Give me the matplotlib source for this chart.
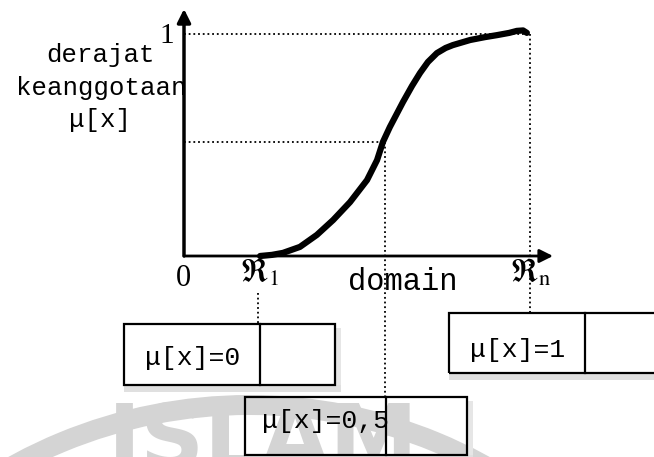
import matplotlib
matplotlib.use("Agg")
import matplotlib.pyplot as plt
from matplotlib.patches import Rectangle, Wedge

plt.rcParams['mathtext.fontset'] = 'stix'

# membership curve (domain scaled so that Rn = 1)
domain_x = [0.220, 0.254, 0.286, 0.335, 0.384, 0.431, 0.480, 0.529, 0.558,
            0.575, 0.595, 0.633, 0.659, 0.682, 0.705, 0.731, 0.756, 0.777,
            0.827, 0.870, 0.905, 0.940, 0.962, 0.980, 0.991]
mu_y = [0.000, 0.005, 0.014, 0.041, 0.095, 0.162, 0.243, 0.342, 0.432,
        0.514, 0.581, 0.694, 0.766, 0.824, 0.874, 0.914, 0.937, 0.950,
        0.973, 0.986, 0.995, 1.005, 1.014, 1.016, 1.005]

R1 = 0.214
Rn = 1.0
x_half = 0.581
mu_half = 0.514
mu_top = 1.0

box_labels = ["\u03bc[x]=0", "\u03bc[x]=0,5", "\u03bc[x]=1"]

# pixel layout of the original picture
X0, Y0 = 184, 256      # origin
SX, SY = 346, 222      # pixels per unit


def dx(px):
    return (px - X0) / SX


def dy(py):
    return (Y0 - py) / SY


fig = plt.figure(figsize=(6.54, 4.57), dpi=100)

# faint watermark behind everything
wm = fig.add_axes([0, 0, 1, 1], zorder=0)
wm.set_xlim(0, 654)
wm.set_ylim(457, 0)
wm.axis('off')
wm.add_patch(Wedge((249, 894), 499, 0, 360, width=20, color='#d4d4d4', lw=0))
wm.text(108, 400, 'ISLAM', fontsize=64, fontweight='bold', color='#d4d4d4',
        va='top', ha='left', family='DejaVu Sans')

ax = fig.add_axes([0, 0, 1, 1], zorder=1)
ax.set_xlim(dx(0), dx(654))
ax.set_ylim(dy(457), dy(0))
ax.axis('off')

# axes with arrows
ax.annotate('', xy=(dx(553), 0), xytext=(0, 0),
            arrowprops=dict(arrowstyle='-|>', lw=2, color='black',
                            mutation_scale=20, shrinkA=0, shrinkB=0))
ax.annotate('', xy=(0, dy(9)), xytext=(0, 0),
            arrowprops=dict(arrowstyle='-|>', lw=2.5, color='black',
                            mutation_scale=20, shrinkA=0, shrinkB=0))

# dotted guide lines
dot = dict(color='black', lw=1.3, ls=(0, (1, 1.6)), clip_on=False)
ax.plot([0, Rn], [mu_top, mu_top], **dot)
ax.plot([Rn, Rn], [mu_top, dy(313)], **dot)
ax.plot([0, x_half], [mu_half, mu_half], **dot)
ax.plot([x_half, x_half], [mu_half, dy(397)], **dot)
ax.plot([R1, R1], [dy(293), dy(324)], **dot)

# the curve
ax.plot(domain_x, mu_y, color='black', lw=4.5, solid_capstyle='round',
        solid_joinstyle='round', clip_on=False)

# labels
mono = 'Liberation Mono'
ax.text(dx(100), dy(55), 'derajat', family=mono, fontsize=18.5,
        ha='center', va='center')
ax.text(dx(101), dy(88), 'keanggotaan', family=mono, fontsize=18.5,
        ha='center', va='center')
ax.text(dx(100), dy(120), '\u03bc[x]', family=mono, fontsize=18.5,
        ha='center', va='center')
ax.text(dx(403), dy(282), 'domain', family=mono, fontsize=22,
        ha='center', va='center')
ax.text(dx(167), dy(36), '1', family='Liberation Serif', fontsize=21,
        ha='center', va='center')
ax.text(dx(183), dy(279), '0', family='Liberation Serif', fontsize=22,
        ha='center', va='center')
ax.text(dx(260), dy(273), r'$\Re_{1}$', fontsize=23, ha='center', va='center')
ax.text(dx(531), dy(273), r'$\Re_{\mathrm{n}}$', fontsize=23, ha='center',
        va='center')

# boxes: (left, divider, right, top, bottom) in pixels, text position
boxes = [(124, 260, 335, 324, 385, 145, 358),
         (245, 386, 467, 397, 455, 262, 421),
         (449, 585, 680, 313, 373, 470, 350)]
for (l, d, r, t, b, tx, ty), lab in zip(boxes, box_labels):
    # scanner shadow
    ax.add_patch(Rectangle((dx(l), dy(b + 7)), dx(r + 6) - dx(l), dy(b) - dy(b + 7),
                           color='#e0e0e0', lw=0))
    ax.add_patch(Rectangle((dx(r), dy(b)), dx(r + 6) - dx(r), dy(t + 4) - dy(b),
                           color='#e6e6e6', lw=0))
    ax.add_patch(Rectangle((dx(l), dy(b)), dx(r) - dx(l), dy(t) - dy(b),
                           fill=False, ec='black', lw=1.6, clip_on=False))
    ax.plot([dx(d), dx(d)], [dy(t), dy(b)], color='black', lw=1.6)
    ax.text(dx(tx), dy(ty), lab, family=mono, fontsize=19, ha='left',
            va='center')

fig.savefig('out.png', dpi=100)
